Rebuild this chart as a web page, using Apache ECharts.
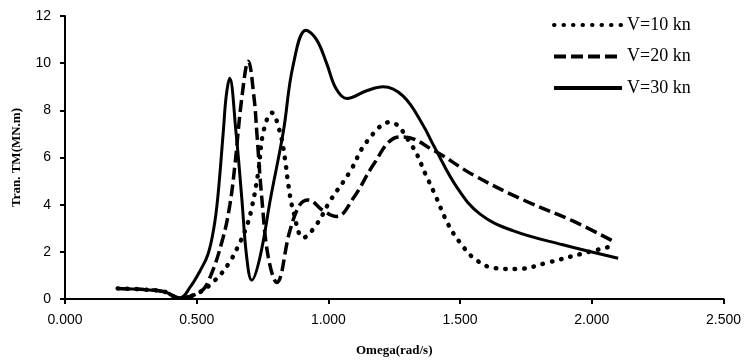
<!DOCTYPE html>
<html>
<head>
<meta charset="utf-8">
<script src="https://cdn.jsdelivr.net/npm/echarts@6/dist/echarts.min.js"></script>
<style>html,body{margin:0;padding:0;background:#fff;}#c{width:744px;height:362px;}</style>
</head>
<body>
<div id="c"></div>
<script>
var seriesNames = ['V=10 kn', 'V=20 kn', 'V=30 kn'];
var xTicks = [0, 0.5, 1.0, 1.5, 2.0, 2.5];
var yTicks = [0, 2, 4, 6, 8, 10, 12];

var omega10 = [0.20,0.30,0.38,0.43,0.50,0.57,0.62,0.658,0.69,0.709,0.734,0.753,0.785,0.816,0.835,0.848,0.867,0.905,0.955,1.006,1.082,1.145,1.234,1.316,1.37,1.405,1.455,1.50,1.557,1.632,1.715,1.835,1.955,2.08];
var tm10    = [0.45,0.40,0.30,0.05,0.22,0.80,1.48,2.25,3.09,3.86,5.40,7.08,7.90,7.08,5.96,4.84,3.72,2.60,3.16,4.15,5.40,6.66,7.50,6.52,5.26,4.42,3.16,2.39,1.69,1.31,1.27,1.55,1.90,2.25];

var omega20 = [0.20,0.30,0.38,0.43,0.513,0.55,0.60,0.626,0.645,0.671,0.696,0.718,0.728,0.747,0.772,0.804,0.854,0.892,0.924,0.98,1.031,1.095,1.17,1.246,1.284,1.40,1.55,1.74,1.93,2.08];
var tm20    = [0.45,0.40,0.30,0.05,0.30,0.90,2.60,4.00,5.67,8.50,10.08,8.50,7.10,4.30,1.76,0.70,2.90,4.00,4.20,3.75,3.50,4.28,5.68,6.80,6.87,6.30,5.26,4.20,3.30,2.46];

var omega30 = [0.20,0.30,0.38,0.437,0.475,0.513,0.543,0.565,0.58,0.601,0.612,0.625,0.649,0.671,0.69,0.709,0.74,0.781,0.829,0.866,0.915,0.955,0.993,1.03,1.07,1.145,1.208,1.284,1.36,1.40,1.49,1.576,1.70,1.89,2.10];
var tm30    = [0.45,0.40,0.30,0.05,0.50,1.20,1.90,3.00,4.30,7.10,8.60,9.36,7.10,4.30,1.76,0.80,1.76,4.30,7.10,9.90,11.40,11.00,10.00,8.90,8.50,8.83,9.00,8.60,7.36,6.50,4.70,3.60,2.90,2.30,1.73];

function pairs(xs, ys) { return xs.map(function (x, i) { return [x, ys[i]]; }); }

var chart = echarts.init(document.getElementById('c'), null, {renderer: 'canvas'});
chart.setOption({
  animation: false,
  backgroundColor: '#ffffff',
  grid: {left: 65, right: 20, top: 16, bottom: 60},
  legend: {
    orient: 'vertical',
    left: 552, top: 15, padding: 0,
    itemWidth: 68, itemHeight: 20, itemGap: 11.5,
    itemStyle: {opacity: 0},
    lineStyle: {width: 4},
    textStyle: {fontFamily: 'Liberation Serif', fontSize: 18, color: '#000', lineHeight: 20},
    data: seriesNames
  },
  xAxis: {
    type: 'value', min: xTicks[0], max: xTicks[xTicks.length - 1], interval: 0.5,
    name: 'Omega(rad/s)', nameLocation: 'middle', nameGap: 45,
    nameTextStyle: {fontFamily: 'Liberation Serif', fontWeight: 'bold', fontSize: 13, color: '#000'},
    axisLine: {lineStyle: {color: '#000', width: 2}},
    axisTick: {show: true, length: 5, lineStyle: {color: '#000', width: 2}},
    axisLabel: {margin: 14, fontFamily: 'Liberation Sans', fontSize: 14, color: '#000',
      formatter: function (v) { return v.toFixed(3); }},
    splitLine: {show: false}
  },
  yAxis: {
    type: 'value', min: yTicks[0], max: yTicks[yTicks.length - 1], interval: 2,
    name: 'Tran. TM(MN.m)', nameLocation: 'middle', nameGap: 42,
    nameTextStyle: {fontFamily: 'Liberation Serif', fontWeight: 'bold', fontSize: 13, color: '#000'},
    axisLine: {show: true, lineStyle: {color: '#000', width: 2}},
    axisTick: {show: true, length: 5, lineStyle: {color: '#000', width: 2}},
    axisLabel: {margin: 14, fontFamily: 'Liberation Sans', fontSize: 14, color: '#000'},
    splitLine: {show: false}
  },
  series: [
    {name: seriesNames[0], type: 'line', smooth: 0.4, symbol: 'none', data: pairs(omega10, tm10),
      lineStyle: {color: '#000', width: 4.5, type: [0.5, 9], cap: 'round'}, itemStyle: {color: '#000'}},
    {name: seriesNames[1], type: 'line', smooth: 0.4, symbol: 'none', data: pairs(omega20, tm20),
      lineStyle: {color: '#000', width: 3.5, type: [12, 5], cap: 'butt'}, itemStyle: {color: '#000'}},
    {name: seriesNames[2], type: 'line', smooth: 0.4, symbol: 'none', data: pairs(omega30, tm30),
      lineStyle: {color: '#000', width: 3}, itemStyle: {color: '#000'}}
  ]
});
</script>
</body>
</html>
